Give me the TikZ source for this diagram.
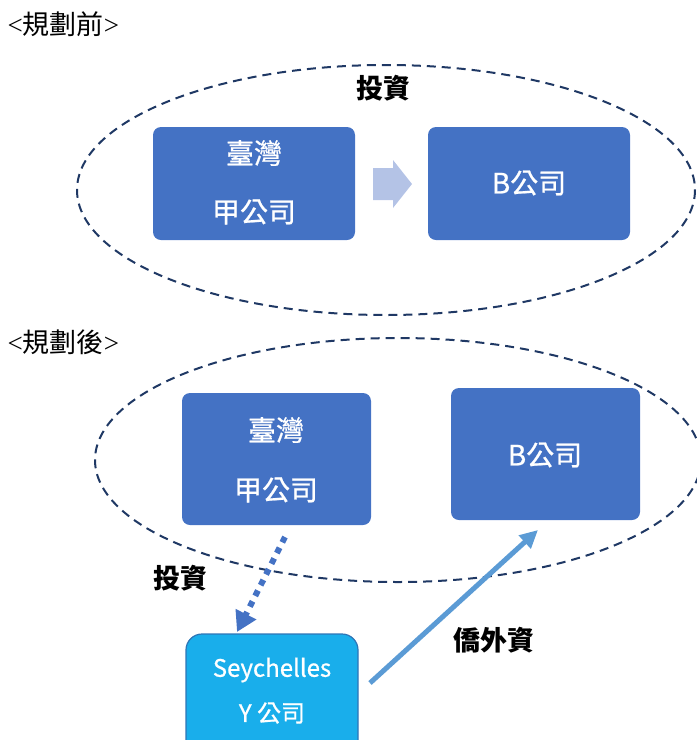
\documentclass[tikz,border=0pt]{standalone}
\usepackage{fontspec}
\setmainfont{Liberation Serif}
\newfontfamily\cjk{Noto Sans CJK TC}
\newfontfamily\cjkm[FakeBold=0.8]{Noto Sans CJK TC}
\usetikzlibrary{arrows.meta}
\definecolor{boxblue}{HTML}{4472C4}
\definecolor{navy}{HTML}{1F3864}
\definecolor{lightarr}{HTML}{B4C3E6}
\definecolor{cyanfill}{HTML}{19AEEB}
\definecolor{cyanedge}{HTML}{2E75B6}
\definecolor{linkblue}{HTML}{5B9BD5}
\tikzset{
  cobox/.style={fill=boxblue, draw=none, rounded corners=8pt},
  ell/.style={draw=navy, line width=2pt, dash pattern=on 9pt off 6pt},
  wtxt/.style={text=white, font=\cjkm\fontsize{28}{28}\selectfont},
  ytxt/.style={text=white, font=\cjkm\fontsize{24}{24}\selectfont},
  lbl/.style={font=\cjk\bfseries\fontsize{27}{27}\selectfont, text=black},
  head/.style={font=\fontsize{27}{27}\selectfont, text=black, anchor=west}
}
\begin{document}
\begin{tikzpicture}[x=1pt,y=-1pt]
\useasboundingbox (0,0) rectangle (697,740);
\clip (0,0) rectangle (697,740);
% titles
\node[head] (t1) at (4,24) {<{\cjk 規劃前}>};
\node[head] (t2) at (4,342) {<{\cjk 規劃後}>};
% before
\draw[ell] (386,190) ellipse [x radius=309, y radius=125];
\node[lbl] (inv1) at (383,88) {投資};
\draw[cobox] (153,127) rectangle (355,240);
\node[wtxt] (a1) at (254,153) {臺灣};
\node[wtxt] (a2) at (254,212) {甲公司};
\draw[cobox] (428,127) rectangle (630,240);
\node[wtxt] (b1) at (529,183) {B公司};
\fill[lightarr] (373,168) -- (393,168) -- (393,160) -- (412,184) -- (393,208) -- (393,200) -- (373,200) -- cycle;
% after
\draw[ell] (398,460) ellipse [x radius=303, y radius=122];
\draw[cobox] (182,393) rectangle (371,525);
\node[wtxt] (c1) at (276,430) {臺灣};
\node[wtxt] (c2) at (276,490) {甲公司};
\draw[cobox] (451,388) rectangle (640,520);
\node[wtxt] (d1) at (545,455) {B公司};
\coordinate (cbot) at (285,537);
\coordinate (ytop) at (237,632);
\coordinate (yright) at (370,683);
\coordinate (dbot) at (538,530);
\draw[fill=cyanfill, draw=cyanedge, line width=1.2pt, rounded corners=16pt] (186,634) rectangle (358,760);
\node[ytxt] (y1) at (272,670) {Seychelles};
\node[ytxt] (y2) at (272,713) {Y 公司};
\draw[boxblue, line width=6pt, dash pattern=on 6pt off 6pt, -{Triangle[length=20pt,width=22pt]}] (cbot) -- (ytop);
\node[lbl] (inv2) at (180,578) {投資};
\draw[linkblue, line width=5pt, -{Triangle[length=18pt,width=17pt]}] (yright) -- (dbot);
\node[lbl] (oi) at (494,640) {僑外資};
\end{tikzpicture}
\end{document}
